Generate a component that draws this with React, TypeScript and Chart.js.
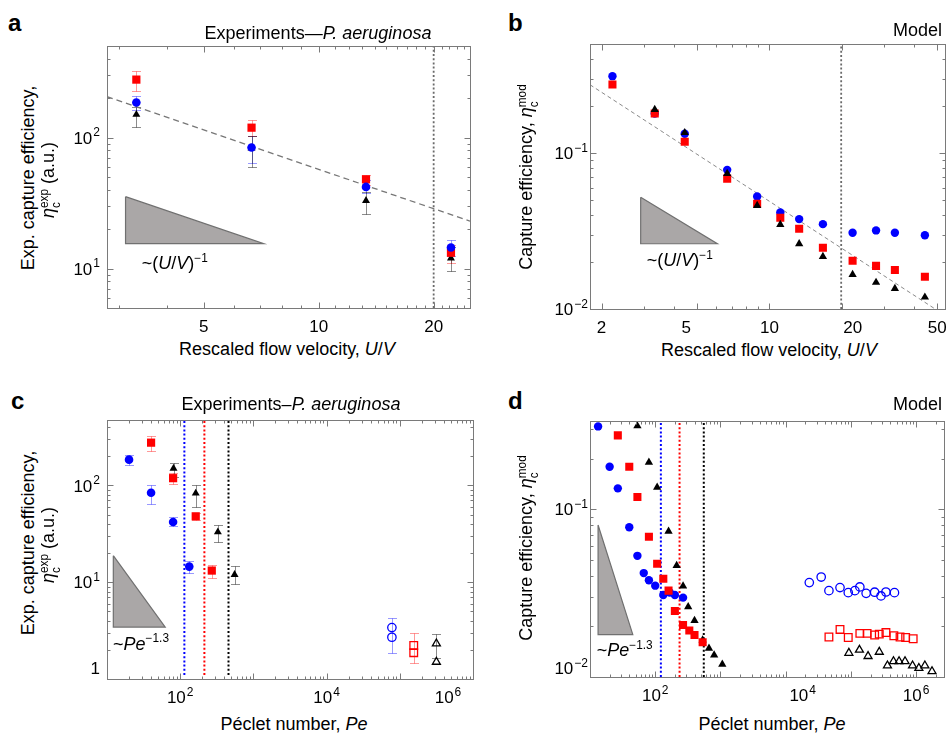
import React, { useEffect, useRef } from "react";
import { Chart, registerables } from "chart.js";

Chart.register(...registerables);

const FONT = '"Liberation Sans", Arial, Helvetica, sans-serif';

// ---------------- Experiments (panels a, c) ----------------
const uvExp = [3.33, 6.67, 13.3, 22.2];
const expBlue = [185, 84, 42, 14.5];
const expBlueLo = [162, 64, 37.7, 12.4];
const expBlueHi = [208, 102, 47.5, 16.4];
const expRed = [277, 119, 48, 13.2];
const expRedLo = [228, 103, 43.5, 11];
const expRedHi = [323, 136, 52, 15.1];
const expBlack = [150, 83, 33, 12];
const expBlackLo = [121, 60, 26, 9.5];
const expBlackHi = [170, 102, 38.7, 14.7];

const peExpBlue = [20, 40, 80, 133];
const peExpRed = [40, 80, 163, 270];
const peExpBlack = [81, 163, 327, 553];

const peOpenBlue = [78000, 78000];
const openBlue = [3.4, 2.7];
const openBlueLo = [null, 1.87];
const openBlueHi = [null, 4.3];
const peOpenRed = [155000, 155000];
const openRed = [2.22, 1.87];
const openRedLo = [null, 1.45];
const openRedHi = [null, 3.0];
const peOpenBlack = [316000, 316000];
const openBlack = [2.32, 1.5];
const openBlackLo = [null, 1.66];
const openBlackHi = [null, 2.95];

// ---------------- Model (panels b, d) ----------------
const uvModel = [2.22, 3.33, 4.44, 6.67, 8.89, 11.1, 13.3, 16.7, 22.2, 27.8, 33.3, 44.4];
const modBlue = [0.311, 0.179, 0.133, 0.078, 0.0527, 0.0416, 0.0377, 0.035, 0.0308, 0.0319, 0.0308, 0.0297];
const modRed = [0.275, 0.179, 0.118, 0.0685, 0.0473, 0.0385, 0.0327, 0.0247, 0.0204, 0.0189, 0.0178, 0.0161];
const modBlack = [0.313, 0.19, 0.135, 0.0738, 0.0461, 0.0348, 0.0262, 0.0217, 0.0166, 0.0148, 0.0135, 0.0119];
const uvModelBlackB = [3.33, 4.44, 6.67, 8.89, 11.1, 13.3, 16.7, 22.2, 27.8, 33.3, 44.4];
const modBlackB = [0.19, 0.135, 0.0738, 0.0461, 0.0348, 0.0262, 0.0217, 0.0166, 0.0148, 0.0135, 0.0119];

const peModBlue = [13.3, 20, 26.7, 40, 53.3, 66.7, 80, 100, 133, 167, 200, 267];
const peModRed = [26.7, 40, 53.3, 80, 107, 133, 160, 200, 267, 333, 400, 533];
const peModBlack = [53.3, 80, 107, 160, 213, 267, 320, 400, 533, 667, 800, 1067];

const peOpenModBlue = [23000, 35000, 46000, 68000, 91000, 115000, 137000, 171000, 231000, 289000, 344000, 465000];
const openModBlue = [0.0365, 0.0394, 0.0327, 0.0341, 0.0318, 0.0327, 0.0344, 0.0315, 0.032, 0.0304, 0.0321, 0.0318];
const peOpenModRed = [46000, 68000, 91000, 137000, 177000, 231000, 272000, 344000, 455000, 566000, 690000, 900000];
const openModRed = [0.0173, 0.0192, 0.0172, 0.0182, 0.0182, 0.0178, 0.018, 0.0184, 0.0176, 0.0173, 0.0172, 0.0169];
const peOpenModBlack = [93000, 135000, 183000, 272000, 363000, 449000, 547000, 675000, 880000, 1100000, 1360000, 1750000];
const openModBlack = [0.0139, 0.0145, 0.0133, 0.0141, 0.0117, 0.0124, 0.0124, 0.0124, 0.0117, 0.0113, 0.0117, 0.0108];

// ---------------- Guides ----------------
const guideAx = [2.79, 24.9];
const guideAy = [205, 23];
const guideBx = [1.79, 49];
const guideBy = [0.274, 0.01];
const vLineA = 20;
const vLineB = 19.9;
const vLinesC = [114, 214, 457];
const vLinesD = [122, 236, 555];
const triAx = [3.12, 3.12, 7.18];
const triAy = [35.4, 15.5, 15.5];
const triBx = [2.91, 2.91, 6.07];
const triBy = [0.0521, 0.0262, 0.0262];
const triCx = [12.2, 12.2, 62.4];
const triCy = [18.8, 3.44, 3.44];
const triDx = [13.3, 13.3, 45.3];
const triDy = [0.0804, 0.0179, 0.0179];

// ---------------- Tick labels [value, base, superscript, label nudge x, nudge y] ----------------
type Lbl = [number, string, string, number?, number?];
const aXLabels: Lbl[] = [[5, "5", ""], [10, "10", ""], [20, "20", ""]];
const aYLabels: Lbl[] = [[10, "10", "1"], [100, "10", "2"]];
const bXLabels: Lbl[] = [[2, "2", ""], [5, "5", "", -11], [10, "10", ""], [20, "20", "", 11], [50, "50", ""]];
const bYLabels: Lbl[] = [[0.01, "10", "\u22122"], [0.1, "10", "\u22121"]];
const cXLabels: Lbl[] = [[100, "10", "2"], [10000, "10", "4"], [1000000, "10", "6", -25]];
const cYLabels: Lbl[] = [[1, "1", "", 0, -11], [10, "10", "1"], [100, "10", "2"]];
const dXLabels: Lbl[] = [[100, "10", "2"], [10000, "10", "4", 17], [1000000, "10", "6"]];
const dYLabels: Lbl[] = [[0.01, "10", "\u22122", 0, -9], [0.1, "10", "\u22121"]];

const RED = "#ff0000";
const BLUE = "#0000ff";
const BLACK = "#000000";
const RED_E = "rgba(255,0,0,0.4)";
const BLUE_E = "rgba(0,0,255,0.4)";
const BLACK_E = "rgba(0,0,0,0.45)";

function logMinorTicks(min: number, max: number): number[] {
  const out: number[] = [];
  for (let e = Math.floor(Math.log10(min)); e <= Math.ceil(Math.log10(max)); e++) {
    for (let k = 1; k <= 9; k++) {
      const v = k * Math.pow(10, e);
      if (v >= min * 0.999 && v <= max * 1.001) out.push(v);
    }
  }
  return out;
}
function intTicks(a: number, b: number): number[] {
  const out: number[] = [];
  for (let v = a; v <= b; v++) out.push(v);
  return out;
}

const pts = (xs: number[], ys: number[]) => xs.map((x, i) => ({ x, y: ys[i] }));

function marker(xs: number[], ys: number[], style: string, color: string, r: number, open = false, err?: any) {
  return {
    data: pts(xs, ys),
    pointStyle: style,
    pointRadius: r,
    pointHoverRadius: r,
    pointBackgroundColor: open ? "rgba(0,0,0,0)" : color,
    pointBorderColor: color,
    pointBorderWidth: open ? 1.3 : 0,
    showLine: false,
    ...(err || {}),
  };
}
function guide(xs: number[], ys: number[], color: string, dash: number[], w: number) {
  return { type: "line", data: pts(xs, ys), borderColor: color, borderWidth: w, borderDash: dash, pointRadius: 0, fill: false, tension: 0 };
}
function poly(xs: number[], ys: number[]) {
  return {
    type: "line",
    data: pts([...xs, xs[0]], [...ys, ys[0]]),
    backgroundColor: "#aaa7a7",
    borderColor: "#707070",
    borderWidth: 1.2,
    fill: "shape",
    pointRadius: 0,
    tension: 0,
  };
}
function vline(x: number, y0: number, y1: number, color: string, w = 2) {
  return { type: "line", data: [{ x, y: y0 }, { x, y: y1 }], borderColor: color, borderWidth: w, borderDash: [2, 2.2], pointRadius: 0, fill: false };
}

const errorBarPlugin = {
  id: "errorBars",
  beforeDatasetsDraw(chart: any) {
    const { ctx, scales } = chart;
    const xs = scales.x;
    const ys = scales.y;
    chart.data.datasets.forEach((ds: any) => {
      if (!ds.errLo) return;
      ctx.save();
      ctx.strokeStyle = ds.errColor;
      ctx.lineWidth = 1;
      ds.data.forEach((p: any, i: number) => {
        const lo = ds.errLo[i];
        const hi = ds.errHi[i];
        if (lo == null || hi == null) return;
        const px = Math.round(xs.getPixelForValue(p.x)) + 0.5;
        const y1 = Math.round(ys.getPixelForValue(lo)) + 0.5;
        const y2 = Math.round(ys.getPixelForValue(hi)) + 0.5;
        ctx.beginPath();
        ctx.moveTo(px, y1);
        ctx.lineTo(px, y2);
        ctx.moveTo(px - 4.5, y1);
        ctx.lineTo(px + 4.5, y1);
        ctx.moveTo(px - 4.5, y2);
        ctx.lineTo(px + 4.5, y2);
        ctx.stroke();
      });
      ctx.restore();
    });
  },
};

function drawLbl(ctx: any, base: string, sup: string, x: number, y: number, align: string) {
  const fb = 17;
  const fs = 12;
  ctx.font = `${fb}px ${FONT}`;
  const wb = ctx.measureText(base).width;
  ctx.font = `${fs}px ${FONT}`;
  const ws = sup ? ctx.measureText(sup).width + 1 : 0;
  const total = wb + ws;
  const x0 = align === "center" ? x - total / 2 : x - total;
  const baseline = y + 0.36 * fb;
  ctx.textAlign = "left";
  ctx.textBaseline = "alphabetic";
  ctx.font = `${fb}px ${FONT}`;
  ctx.fillText(base, x0, baseline);
  if (sup) {
    ctx.font = `${fs}px ${FONT}`;
    ctx.fillText(sup, x0 + wb + 1, baseline - 7.5);
  }
}

const frameTicksPlugin = {
  id: "frameTicks",
  afterDraw(chart: any, _args: any, opts: any) {
    const { ctx, chartArea: ca, scales } = chart;
    const xs = scales.x;
    const ys = scales.y;
    const L = Math.round(ca.left) + 0.5;
    const R = Math.round(ca.right) + 0.5;
    const T = Math.round(ca.top) + 0.5;
    const B = Math.round(ca.bottom) + 0.5;
    ctx.save();
    ctx.strokeStyle = "#7a7a7a";
    ctx.lineWidth = 1;
    ctx.strokeRect(L, T, R - L, B - T);
    const isMajor = (v: number, labels: Lbl[]) =>
      labels.some((l) => Math.abs(l[0] - v) < 1e-9 * Math.max(1, v)) ||
      Math.abs(Math.log10(v) - Math.round(Math.log10(v))) < 1e-6;
    ctx.beginPath();
    opts.xTicks.forEach((v: number) => {
      const px = Math.round(xs.getPixelForValue(v)) + 0.5;
      if (px < L - 0.1 || px > R + 0.1) return;
      const len = isMajor(v, opts.xLabels) ? 6 : 3;
      ctx.moveTo(px, B);
      ctx.lineTo(px, B - len);
      ctx.moveTo(px, T);
      ctx.lineTo(px, T + len);
    });
    opts.yTicks.forEach((v: number) => {
      const py = Math.round(ys.getPixelForValue(v)) + 0.5;
      if (py < T - 0.1 || py > B + 0.1) return;
      const len = isMajor(v, opts.yLabels) ? 6 : 3;
      ctx.moveTo(L, py);
      ctx.lineTo(L + len, py);
      ctx.moveTo(R, py);
      ctx.lineTo(R - len, py);
    });
    ctx.stroke();
    ctx.fillStyle = "#000";
    opts.xLabels.forEach((l: Lbl) =>
      drawLbl(ctx, l[1], l[2], xs.getPixelForValue(l[0]) + (l[3] || 0), ca.bottom + 18 + (l[4] || 0), "center")
    );
    opts.yLabels.forEach((l: Lbl) =>
      drawLbl(ctx, l[1], l[2], ca.left - opts.yGap + (l[3] || 0), ys.getPixelForValue(l[0]) + (l[4] || 0), "right")
    );
    ctx.restore();
  },
};

function makeConfig(p: any) {
  return {
    type: "scatter",
    data: { datasets: p.datasets },
    options: {
      animation: false,
      responsive: false,
      maintainAspectRatio: false,
      devicePixelRatio: 1,
      events: [],
      layout: { padding: { top: p.padTop, right: p.padRight, left: 0, bottom: 0 } },
      plugins: {
        legend: { display: false },
        tooltip: { enabled: false },
        frameTicks: { xTicks: p.xTicks, yTicks: p.yTicks, xLabels: p.xLabels, yLabels: p.yLabels, yGap: p.yGap },
      },
      scales: {
        x: {
          type: "logarithmic",
          min: p.xMin,
          max: p.xMax,
          grid: { display: false },
          border: { display: false },
          ticks: { display: false },
          afterFit: (s: any) => {
            s.height = p.xH;
            s.paddingLeft = 0;
            s.paddingRight = 0;
          },
        },
        y: {
          type: "logarithmic",
          min: p.yMin,
          max: p.yMax,
          grid: { display: false },
          border: { display: false },
          ticks: { display: false },
          afterFit: (s: any) => {
            s.width = p.yW;
            s.paddingTop = 0;
            s.paddingBottom = 0;
          },
        },
      },
    },
    plugins: [errorBarPlugin, frameTicksPlugin],
  };
}

const errs = (lo: any[], hi: any[], color: string) => ({ errLo: lo, errHi: hi, errColor: color });

function configA() {
  return makeConfig({
    xMin: 2.79, xMax: 24.9, yMin: 5, yMax: 500,
    padTop: 10, padRight: 10, yW: 57, xH: 28, yGap: 7,
    xTicks: intTicks(3, 24), yTicks: logMinorTicks(5, 500),
    xLabels: aXLabels, yLabels: aYLabels,
    datasets: [
      marker(uvExp, expBlue, "circle", BLUE, 4.3, false, errs(expBlueLo, expBlueHi, BLUE_E)),
      marker(uvExp, expRed, "rect", RED, 5.8, false, errs(expRedLo, expRedHi, RED_E)),
      marker(uvExp, expBlack, "triangle", BLACK, 4.6, false, errs(expBlackLo, expBlackHi, BLACK_E)),
      guide(guideAx, guideAy, "#777", [6, 4], 1.3),
      vline(vLineA, 5, 500, "#6a6a6a", 1.8),
      poly(triAx, triAy),
    ],
  });
}

function configB() {
  return makeConfig({
    xMin: 1.79, xMax: 54, yMin: 0.01, yMax: 0.5,
    padTop: 10, padRight: 2, yW: 60, xH: 31, yGap: 2,
    xTicks: logMinorTicks(1.79, 54), yTicks: logMinorTicks(0.01, 0.5),
    xLabels: bXLabels, yLabels: bYLabels,
    datasets: [
      marker(uvModelBlackB, modBlackB, "triangle", BLACK, 4.8),
      marker(uvModel, modRed, "rect", RED, 5.7),
      marker(uvModel, modBlue, "circle", BLUE, 4.2),
      guide(guideBx, guideBy, "#8a8a8a", [4, 3], 1),
      vline(vLineB, 0.01, 0.5, "#6a6a6a", 1.8),
      poly(triBx, triBy),
    ],
  });
}

function configC() {
  return makeConfig({
    xMin: 10, xMax: 1e6, yMin: 1, yMax: 475,
    padTop: 10, padRight: 7, yW: 57, xH: 31, yGap: 7,
    xTicks: logMinorTicks(10, 1e6), yTicks: logMinorTicks(1, 475),
    xLabels: cXLabels, yLabels: cYLabels,
    datasets: [
      marker(peExpBlue, expBlue, "circle", BLUE, 4.3, false, errs(expBlueLo, expBlueHi, BLUE_E)),
      marker(peExpRed, expRed, "rect", RED, 5.8, false, errs(expRedLo, expRedHi, RED_E)),
      marker(peExpBlack, expBlack, "triangle", BLACK, 4.6, false, errs(expBlackLo, expBlackHi, BLACK_E)),
      marker(peOpenBlue, openBlue, "circle", BLUE, 4.2, true, errs(openBlueLo, openBlueHi, BLUE_E)),
      marker(peOpenRed, openRed, "rect", RED, 5.4, true, errs(openRedLo, openRedHi, RED_E)),
      marker(peOpenBlack, openBlack, "triangle", BLACK, 4.6, true, errs(openBlackLo, openBlackHi, BLACK_E)),
      vline(vLinesC[0], 1.1, 475, BLUE),
      vline(vLinesC[1], 1.1, 475, RED),
      vline(vLinesC[2], 1.1, 475, BLACK),
      poly(triCx, triCy),
    ],
  });
}

function configD() {
  return makeConfig({
    xMin: 10, xMax: 2.7e6, yMin: 0.01, yMax: 0.335,
    padTop: 10, padRight: 2, yW: 60, xH: 33, yGap: 2,
    xTicks: logMinorTicks(10, 2.7e6), yTicks: logMinorTicks(0.01, 0.335),
    xLabels: dXLabels, yLabels: dYLabels,
    datasets: [
      marker(peModRed, modRed, "rect", RED, 5.7),
      marker(peModBlack, modBlack, "triangle", BLACK, 4.8),
      marker(peModBlue, modBlue, "circle", BLUE, 4.2),
      marker(peOpenModBlue, openModBlue, "circle", BLUE, 4.2, true),
      marker(peOpenModRed, openModRed, "rect", RED, 5.4, true),
      marker(peOpenModBlack, openModBlack, "triangle", BLACK, 4.6, true),
      vline(vLinesD[0], 0.01, 0.335, BLUE),
      vline(vLinesD[1], 0.01, 0.335, RED),
      vline(vLinesD[2], 0.01, 0.335, BLACK),
      poly(triDx, triDy),
    ],
  });
}

function ChartCanvas({ left, top, width, height, make }: any) {
  const ref = useRef<HTMLCanvasElement>(null);
  useEffect(() => {
    const chart = new Chart(ref.current as HTMLCanvasElement, make() as any);
    return () => chart.destroy();
  }, []);
  return (
    <canvas
      ref={ref}
      width={width}
      height={height}
      style={{ position: "absolute", left, top, width, height }}
    />
  );
}

// text placed by baseline (horizontal) or by centre (rotated)
function T({ x, y, size = 18, anchor = "c", bold = false, children }: any) {
  const tx = anchor === "l" ? "0" : anchor === "r" ? "-100%" : "-50%";
  return (
    <div
      style={{
        position: "absolute",
        left: x,
        top: y - 0.8465 * size,
        transform: `translateX(${tx})`,
        fontSize: size,
        lineHeight: 1,
        fontFamily: FONT,
        fontWeight: bold ? "bold" : "normal",
        whiteSpace: "nowrap",
        color: "#000",
      }}
    >
      {children}
    </div>
  );
}
function RT({ x, y, size = 18, children }: any) {
  return (
    <div
      style={{
        position: "absolute",
        left: x,
        top: y,
        transform: "translate(-50%, -50%) rotate(-90deg)",
        fontSize: size,
        lineHeight: 1,
        fontFamily: FONT,
        whiteSpace: "nowrap",
        color: "#000",
      }}
    >
      {children}
    </div>
  );
}
const Sup = ({ children }: any) => (
  <span style={{ fontSize: "0.66em", position: "relative", top: "-0.62em" }}>{children}</span>
);
const Eta = ({ sup }: any) => (
  <span>
    <i>η</i>
    <span style={{ display: "inline-block", verticalAlign: "-0.5em", fontSize: "0.66em", lineHeight: 1 }}>
      <span style={{ display: "block" }}>{sup}</span>
      <span style={{ display: "block" }}>c</span>
    </span>
  </span>
);

export default function App() {
  return (
    <div style={{ position: "absolute", left: 0, top: 0, width: 951, height: 733, background: "#fff", overflow: "hidden" }}>
      <ChartCanvas left={50} top={36} width={430} height={300} make={configA} />
      <ChartCanvas left={530} top={34} width={421} height={306} make={configB} />
      <ChartCanvas left={50} top={410} width={430} height={300} make={configC} />
      <ChartCanvas left={530} top={411} width={421} height={299} make={configD} />

      {/* panel letters */}
      <T x={8} y={31.5} size={24} anchor="l" bold>a</T>
      <T x={508} y={31.5} size={24} anchor="l" bold>b</T>
      <T x={11} y={409} size={24} anchor="l" bold>c</T>
      <T x={508} y={409} size={24} anchor="l" bold>d</T>

      {/* titles */}
      <T x={318} y={39.3}>Experiments—<i>P. aeruginosa</i></T>
      <T x={942} y={36.7} anchor="r">Model</T>
      <T x={291} y={410}>Experiments–<i>P. aeruginosa</i></T>
      <T x={942} y={410} anchor="r">Model</T>

      {/* x titles */}
      <T x={287} y={355}>Rescaled flow velocity, <i>U</i>/<i>V</i></T>
      <T x={769} y={356.5}>Rescaled flow velocity, <i>U</i>/<i>V</i></T>
      <T x={294} y={730}>Péclet number, <i>Pe</i></T>
      <T x={772} y={730}>Péclet number, <i>Pe</i></T>

      {/* y titles */}
      <RT x={28} y={178}>Exp. capture efficiency,</RT>
      <RT x={51} y={180}><Eta sup="exp" /> (a.u.)</RT>
      <RT x={529} y={177}>Capture efficiency, <Eta sup="mod" /></RT>
      <RT x={28} y={543}>Exp. capture efficiency,</RT>
      <RT x={51} y={545}><Eta sup="exp" /> (a.u.)</RT>
      <RT x={529} y={548}>Capture efficiency, <Eta sup="mod" /></RT>

      {/* slope annotations */}
      <T x={141.7} y={269.3} anchor="l">~(<i>U</i>/<i>V</i>)<Sup>−1</Sup></T>
      <T x={646.7} y={266.7} anchor="l">~(<i>U</i>/<i>V</i>)<Sup>−1</Sup></T>
      <T x={113} y={650} anchor="l">~<i>Pe</i><Sup>−1.3</Sup></T>
      <T x={596.7} y={656.7} anchor="l">~<i>Pe</i><Sup>−1.3</Sup></T>
    </div>
  );
}
